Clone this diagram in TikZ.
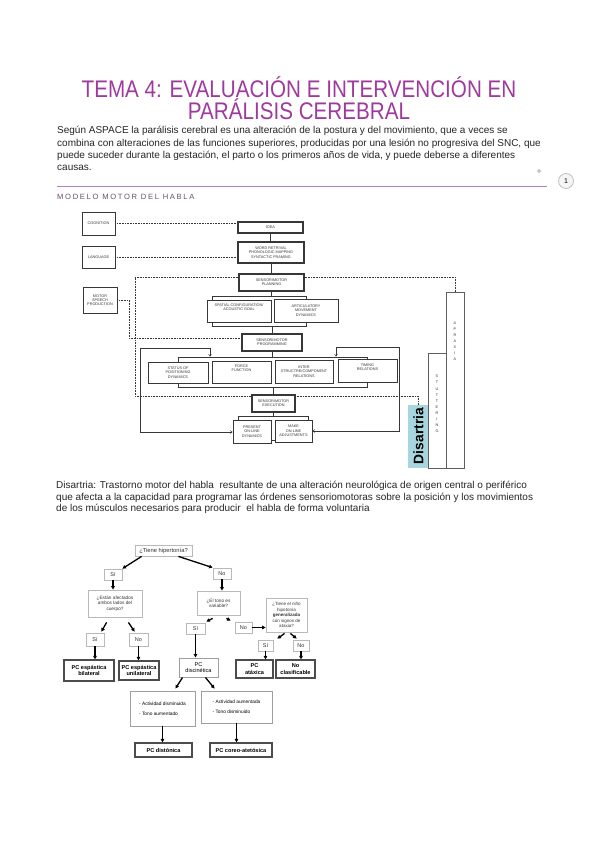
\documentclass[tikz,border=0pt]{standalone}
\usepackage{fontspec}
\setmainfont{Liberation Sans}
\newfontfamily\titlefont[FakeStretch=0.86]{Liberation Sans}
\newfontfamily\bodyfont{Liberation Sans}
\newfontfamily\spacedfont[LetterSpace=22]{Liberation Sans}
\usetikzlibrary{arrows.meta,backgrounds}
\pgfdeclarelayer{paper}
\pgfsetlayers{paper,background,main}
\definecolor{titlepurple}{RGB}{158,58,158}
\definecolor{rulepurple}{RGB}{185,125,185}
\definecolor{subpurple}{RGB}{105,80,105}
\definecolor{disfill}{RGB}{168,214,222}
\definecolor{scangray}{RGB}{55,55,55}
\newcommand\mkbox[7]{\node[#6, minimum width={(#4-#2)*1pt}, minimum height={(#5-#3)*1pt}] (#1) at ({(#2+#4)/2},{(#3+#5)/2}) {#7};}
\begin{document}
\begin{tikzpicture}[x=1pt,y=-1pt,
  ttl/.style={font=\titlefont\fontsize{24}{28}\selectfont, text=titlepurple, inner sep=0pt, anchor=base},
  body/.style={font=\bodyfont\fontsize{10}{11}\selectfont, inner sep=0pt, anchor=base west, text=black!85},
  mbox/.style={draw=scangray, fill=white, inner sep=0pt, align=center, font=\fontsize{3.8}{4.3}\selectfont, text=scangray},
  mthick/.style={mbox, line width=1.1pt},
  mthin/.style={mbox, line width=0.7pt},
  mframe/.style={draw=scangray, line width=0.7pt, inner sep=0pt},
  mcol/.style={draw=scangray!80, fill=white, line width=0.5pt, inner sep=0pt},
  mline/.style={draw=scangray, line width=0.7pt},
  mdsh/.style={draw=scangray, line width=0.6pt, dash pattern=on 1pt off 0.6pt},
  mfb/.style={draw=scangray, line width=0.45pt, {Straight Barb[length=2.2pt,width=3pt]}-{Straight Barb[length=2.2pt,width=3pt]}},
  coltxt/.style={inner sep=0pt, align=center, font=\fontsize{3.8}{6.1}\selectfont, text=scangray},
  tq/.style={draw=gray!55, line width=0.8pt, fill=white, inner sep=0pt, align=center, font=\fontsize{4.7}{5.3}\selectfont, text=black!80},
  tyn/.style={tq, font=\fontsize{5.5}{6}\selectfont},
  tpc/.style={draw=black!70, line width=1.3pt, fill=white, inner sep=0pt, align=center, font=\fontsize{5.6}{6.6}\selectfont\bfseries},
  tmid/.style={draw=gray!75, line width=1pt, fill=white, inner sep=0pt, align=center, font=\fontsize{5.6}{6.6}\selectfont},
  tact/.style={draw=gray!75, line width=0.9pt, fill=white, inner sep=0pt, align=left, font=\fontsize{4.8}{5.4}\selectfont},
  tarr/.style={line width=1.3pt, -{Triangle[length=3.5pt,width=3.6pt]}}
]
\useasboundingbox (0,0) rectangle (599,848);
\begin{pgfonlayer}{paper}
\fill[white] (0,0) rectangle (599,848);
\end{pgfonlayer}

% ---------- title and text ----------
\node[ttl] (t1) at (299,97.5) {TEMA 4: EVALUACIÓN E INTERVENCIÓN EN};
\node[ttl] (t2) at (299,120) {PARÁLISIS CEREBRAL};
\node[body] (p1) at (57,134) {Según ASPACE la parálisis cerebral es una alteración de la postura y del movimiento, que a veces se};
\node[body] (p2) at (57,146.5) {combina con alteraciones de las funciones superiores, producidas por una lesión no progresiva del SNC, que};
\node[body] (p3) at (57,158.5) {puede suceder durante la gestación, el parto o los primeros años de vida, y puede deberse a diferentes};
\node[body] (p4) at (57,170.5) {causas.};
\coordinate (r1) at (57,186.5);
\coordinate (r2) at (547,186.5);
\draw[rulepurple, line width=0.8pt] (r1) -- (r2);
\node[circle, fill=blue!25!gray!35, minimum size=4pt, inner sep=0pt] (dot) at (539,171) {};
\node[circle, draw=gray!60, fill=gray!8, line width=0.6pt, minimum size=15pt, inner sep=0pt, font=\fontsize{7}{8}\selectfont] (pg) at (566,181) {1};
\node[inner sep=0pt, anchor=base west, font=\spacedfont\fontsize{7.6}{8}\selectfont, text=subpurple] (sub) at (57,199) {MODELO MOTOR DEL HABLA};

% ---------- motor model ----------
\mkbox{cog}{82}{212}{115}{235}{mthin}{COGNITION}
\mkbox{lang}{82}{246}{115}{268}{mthin}{LANGUAGE}
\mkbox{msp}{83}{287}{117}{313}{mthin}{MOTOR\\SPEECH\\PRODUCTION}
\mkbox{idea}{238}{222}{303}{233}{mthick}{IDEA}
\mkbox{word}{238}{242}{304}{263}{mthick}{WORD RETRIVAL\\PHONOLOGIC MAPPING\\SYNTACTIC FRAMING}
\mkbox{plan}{239}{274}{304}{291}{mthick}{SENSORIMOTOR\\PLANNING}
\mkbox{g1}{212}{296}{306}{326}{mframe}{}
\mkbox{spat}{207}{300}{271}{322}{mthin}{SPATIAL CONFIGURATION/\\ACOUSTIC GOAL\\[3pt]}
\mkbox{artic}{274}{299}{338}{322}{mthin}{ARTICULATORY\\MOVEMENT\\DYNAMICS}
\mkbox{prog}{242}{334}{302}{351}{mthick}{SENSORIMOTOR\\PROGRAMMING}
\mkbox{g2}{178}{357}{367}{387}{mframe}{}
\mkbox{stat}{148}{362}{208}{383}{mthin}{STATUS OF\\POSITIONING\\DYNAMICS}
\mkbox{force}{212}{361}{271}{383}{mthin}{FORCE\\FUNCTION\\[3pt]}
\mkbox{inter}{275}{360}{333}{383}{mthin}{INTER\\STRUCTRE/COMPONENT\\RELATIONS}
\mkbox{timing}{338}{359}{397}{382}{mthin}{TIMING\\RELATIONS\\[3pt]}
\mkbox{exec}{252}{395}{295}{412}{mthick}{SENSORIMOTOR\\EXECUTION}
\mkbox{g3}{238}{416}{308}{440}{mframe}{}
\mkbox{pres}{233}{420}{271}{443}{mthin}{PRESENT\\ON-LINE\\DYNAMICS}
\mkbox{make}{275}{420}{312}{442}{mthin}{MAKE\\ON-LINE\\ADJUSTMENTS}
\mkbox{aprax}{446}{292}{464}{468}{mcol}{}
\mkbox{stut}{428}{353}{446}{468}{mcol}{}
\mkbox{dis}{408}{405}{428}{468}{mcol, fill=disfill, draw=none}{}
\node[coltxt] (apt) at (455,341) {A\\P\\R\\A\\X\\I\\A};
\node[coltxt] (stt) at (437,404) {S\\T\\U\\T\\T\\E\\R\\I\\N\\G};
\node[rotate=90, inner sep=0pt, font=\bfseries\fontsize{13.8}{14}\selectfont] (dist) at (418.5,436) {Disartria};

\coordinate (ca) at (135,277);
\coordinate (cb) at (135,396);
\coordinate (cc) at (455,277);
\coordinate (cd) at (129,338);
\coordinate (fa) at (140,348);
\coordinate (fb) at (140,432);
\coordinate (fc) at (210,348);
\coordinate (fd) at (399,347);
\coordinate (fe) at (336,347);
\begin{pgfonlayer}{background}
\draw[mline] (idea.south) -- (idea.south |- word.north);
\draw[mline] (word.south) -- (word.south |- plan.north);
\draw[mline] (plan.south) -- (plan.south |- g1.north);
\draw[mline] (prog.north |- g1.south) -- (prog.north);
\draw[mline] (prog.south) -- (prog.south |- g2.north);
\draw[mline] (exec.north |- g2.south) -- (exec.north);
\draw[mline] (exec.south) -- (exec.south |- g3.north);
\draw[mdsh] (cog.east) -- (cog.east -| idea.west);
\draw[mdsh] (lang.east) -- (lang.east -| word.west);
\draw[mdsh] (ca -| plan.west) -- (ca) -- (cb) -- (cb -| dis.north) -- (dis.north);
\draw[mdsh] (ca -| plan.east) -- (cc) -- (aprax.north);
\draw[mdsh] (msp.east) -- (msp.east -| cd) -- (cd) -- (cd -| prog.west);
\draw[mfb] (fc |- g2.north) -- (fc) -- (fa) -- (fb) -- (fb -| pres.west);
\draw[mfb] (fe |- g2.north) -- (fe) -- (fd) -- (fd |- make.east) -- (make.east);
\end{pgfonlayer}

% ---------- Disartria text ----------
\node[body] (d1) at (56,488.5) {Disartria: Trastorno motor del habla \ resultante de una alteración neurológica de origen central o periférico};
\node[body] (d2) at (56,500) {que afecta a la capacidad para programar las órdenes sensoriomotoras sobre la posición y los movimientos};
\node[body] (d3) at (56,511.5) {de los músculos necesarios para producir \ el habla de forma voluntaria};

% ---------- decision tree ----------
\mkbox{q1}{135}{545}{192}{556}{tq, font=\fontsize{5.8}{6.4}\selectfont}{¿Tiene hipertonía?}
\mkbox{s1}{104}{569}{122}{580}{tyn}{Sí}
\mkbox{n1}{213}{568}{231}{579}{tyn}{No}
\mkbox{q2}{88}{590}{142}{617}{tq}{¿Están afectados\\ambos lados del\\cuerpo?}
\mkbox{s2}{86}{633}{104}{646}{tyn}{Sí}
\mkbox{n2}{129}{633}{148}{646}{tyn}{No}
\mkbox{pcbil}{64}{660}{114}{681}{tpc}{PC espástica\\bilateral}
\mkbox{pcuni}{119}{661}{159}{680}{tpc}{PC espástica\\unilateral}
\mkbox{q3}{197}{591}{240}{615}{tq}{¿El tono es\\variable?}
\mkbox{s3}{186}{623}{205}{634}{tyn}{Sí}
\mkbox{n3}{235}{622}{252}{633}{tyn}{No}
\mkbox{q4}{266}{598}{307}{632}{tq, font=\fontsize{4.5}{5.4}\selectfont}{¿Tiene el niño\\hipotonía\\\textbf{generalizada}\\con signos de\\ataxia?}
\mkbox{s4}{258}{640}{273}{651}{tyn}{Sí}
\mkbox{n4}{293}{640}{309}{651}{tyn}{No}
\mkbox{pcat}{236}{660}{273}{678}{tpc}{PC\\atáxica}
\mkbox{nocl}{276}{660}{315}{678}{tpc}{No\\clasificable}
\mkbox{pcdis}{179}{658}{218}{677}{tmid}{PC\\discinética}
\mkbox{act1}{130}{691}{195}{726}{tact}{- Actividad disminuida\\[5pt]- Tono aumentado}
\mkbox{act2}{201}{691}{272}{723}{tact}{- Actividad aumentada\\[5pt]- Tono disminuido}
\mkbox{pcdt}{135}{743}{192}{757}{tpc}{PC distónica}
\mkbox{pcca}{210}{743}{272}{757}{tpc}{PC coreo-atetósica}

\draw[tarr] ([xshift=7pt]q1.south west) -- (s1.north east);
\draw[tarr] ([xshift=-14pt]q1.south east) -- (n1.north west);
\draw[tarr] (s1.south) -- (s1.south |- q2.north);
\draw[tarr] ([xshift=19pt,yshift=-5pt]q2.south west) -- ([xshift=-3pt,yshift=1pt]s2.north east);
\draw[tarr] ([xshift=-14pt,yshift=-5pt]q2.south east) -- ([xshift=6pt,yshift=1pt]n2.north west);
\draw[tarr] (s2.south) -- (s2.south |- pcbil.north);
\draw[tarr] (n2.south) -- (n2.south |- pcuni.north);
\draw[tarr] (n1.south) -- (n1.south |- q3.north);
\draw[tarr] ([xshift=16pt,yshift=-3pt]q3.south west) -- ([xshift=1pt,yshift=1pt]s3.north east);
\draw[tarr] ([xshift=-14pt,yshift=-3pt]q3.south east) -- ([xshift=-4pt,yshift=1pt]n3.north west);
\draw[tarr] (n3.east) -- (n3.east -| q4.west);
\draw[tarr] ([xshift=19pt,yshift=-1pt]q4.south west) -- ([xshift=4pt,yshift=1pt]s4.north east);
\draw[tarr] ([xshift=-17pt,yshift=-1pt]q4.south east) -- ([xshift=4pt,yshift=1pt]n4.north west);
\draw[tarr] (s4.south) -- (s4.south |- pcat.north);
\draw[tarr] (n4.south) -- (n4.south |- nocl.north);
\draw[tarr] (s3.south) -- (s3.south |- pcdis.north);
\draw[tarr] ([xshift=4pt]pcdis.south west) -- ([xshift=-20pt,yshift=2pt]act1.north east);
\draw[tarr] ([xshift=-13pt]pcdis.south east) -- ([xshift=14pt,yshift=2pt]act2.north west);
\draw[tarr] (act1.south) -- (act1.south |- pcdt.north);
\draw[tarr] (act2.south) -- (act2.south |- pcca.north);
\end{tikzpicture}
\end{document}
